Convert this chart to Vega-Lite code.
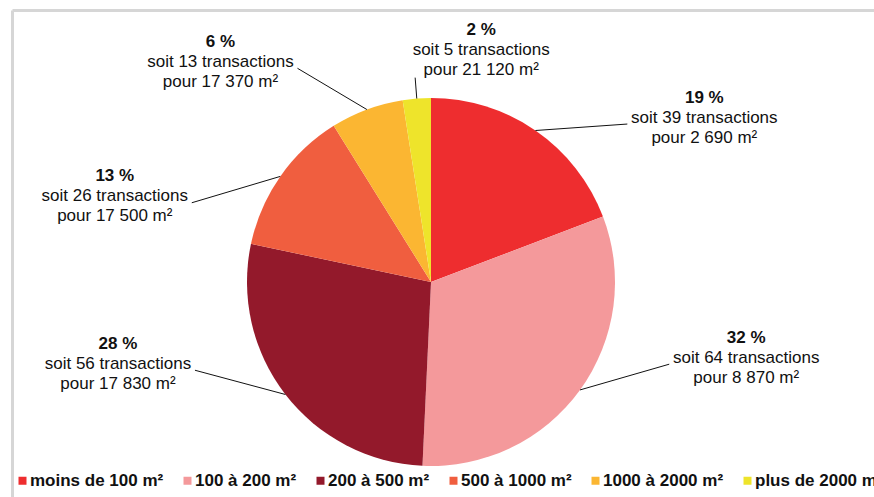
{
  "$schema": "https://vega.github.io/schema/vega-lite/v6.json",
  "width": 862,
  "height": 487,
  "autosize": {"type": "none"},
  "padding": {"left": 12, "top": 10, "right": 0, "bottom": 0},
  "background": "white",
  "config": {
    "view": {"stroke": null},
    "font": "Liberation Sans",
    "text": {"font": "Liberation Sans", "color": "#111111"}
  },
  "data": {
    "values": [
      {"cat": "moins de 100 m²", "order": 1, "transactions": 39, "surface": "2 690"},
      {"cat": "100 à 200 m²", "order": 2, "transactions": 64, "surface": "8 870"},
      {"cat": "200 à 500 m²", "order": 3, "transactions": 56, "surface": "17 830"},
      {"cat": "500 à 1000 m²", "order": 4, "transactions": 26, "surface": "17 500"},
      {"cat": "1000 à 2000 m²", "order": 5, "transactions": 13, "surface": "17 370"},
      {"cat": "plus de 2000 m²", "order": 6, "transactions": 5, "surface": "21 120"}
    ]
  },
  "transform": [
    {"window": [{"op": "sum", "field": "transactions", "as": "cum"}], "sort": [{"field": "order"}], "frame": [null, 0]},
    {"joinaggregate": [{"op": "sum", "field": "transactions", "as": "total"}]},
    {"calculate": "2*PI*(datum.cum - datum.transactions/2)/datum.total", "as": "mid"},
    {"calculate": "datum.mid + 0.31*sin(2*datum.mid)", "as": "pushed"},
    {"calculate": "abs(sin(datum.pushed)) < 0.25", "as": "top"},
    {"calculate": "datum.top ? datum.mid : datum.pushed", "as": "aa"},
    {"calculate": "datum.top ? 205 : 252", "as": "ra"},
    {"calculate": "184*sin(datum.mid)", "as": "ex"},
    {"calculate": "184*cos(datum.mid)", "as": "ey"},
    {"calculate": "datum.ra*sin(datum.aa)", "as": "ax"},
    {"calculate": "datum.ra*cos(datum.aa)", "as": "ay"},
    {"calculate": "datum.top ? datum.ax + 66 : datum.ax + (sin(datum.aa) > 0 ? 77 : -77)", "as": "lx"},
    {"calculate": "datum.top ? datum.ay + 28 : datum.ay + 6.5", "as": "ly"},
    {"calculate": "round(100*datum.transactions/datum.total) + ' %'", "as": "pctLabel"},
    {"calculate": "'soit ' + datum.transactions + ' transactions'", "as": "line2"},
    {"calculate": "'pour ' + datum.surface + ' m²'", "as": "line3"}
  ],
  "layer": [
    {
      "mark": {"type": "arc", "outerRadius": 184},
      "encoding": {
        "x": {
          "datum": 0,
          "type": "quantitative",
          "scale": {"domain": [-419, 443], "nice": false, "zero": false},
          "axis": {"orient": "top", "title": null, "labels": false, "ticks": false, "grid": false, "domainColor": "#d6d6d6", "domainWidth": 3}
        },
        "y": {
          "datum": 0,
          "type": "quantitative",
          "scale": {"domain": [-215, 272], "nice": false, "zero": false},
          "axis": {"orient": "left", "title": null, "labels": false, "ticks": false, "grid": false, "domainColor": "#d6d6d6", "domainWidth": 3}
        },
        "theta": {"field": "transactions", "type": "quantitative", "stack": true},
        "order": {"field": "order", "type": "quantitative"},
        "color": {
          "field": "cat",
          "type": "nominal",
          "scale": {
            "domain": ["moins de 100 m²", "100 à 200 m²", "200 à 500 m²", "500 à 1000 m²", "1000 à 2000 m²", "plus de 2000 m²"],
            "range": ["#EE2D2F", "#F4999B", "#93192B", "#F05E3F", "#FBB632", "#EEE42B"]
          },
          "legend": {
            "orient": "none",
            "legendX": 2,
            "legendY": 462,
            "direction": "horizontal",
            "title": null,
            "padding": 0,
            "symbolType": "square",
            "symbolSize": 64,
            "symbolStrokeWidth": 0,
            "labelFont": "Liberation Sans",
            "labelFontSize": 17,
            "labelFontWeight": "bold",
            "labelColor": "#111111",
            "labelOffset": -1,
            "columnPadding": 15,
            "labelLimit": 300
          }
        }
      }
    },
    {
      "mark": {"type": "rule", "color": "#111111", "strokeWidth": 1},
      "encoding": {
        "x": {"field": "ex", "type": "quantitative"},
        "y": {"field": "ey", "type": "quantitative"},
        "x2": {"field": "ax"},
        "y2": {"field": "ay"}
      }
    },
    {
      "mark": {"type": "text", "fontSize": 17, "fontWeight": "bold", "dy": -20, "baseline": "middle", "align": "center"},
      "encoding": {
        "x": {"field": "lx", "type": "quantitative"},
        "y": {"field": "ly", "type": "quantitative"},
        "text": {"field": "pctLabel"}
      }
    },
    {
      "mark": {"type": "text", "fontSize": 17, "baseline": "middle", "align": "center"},
      "encoding": {
        "x": {"field": "lx", "type": "quantitative"},
        "y": {"field": "ly", "type": "quantitative"},
        "text": {"field": "line2"}
      }
    },
    {
      "mark": {"type": "text", "fontSize": 17, "dy": 20, "baseline": "middle", "align": "center"},
      "encoding": {
        "x": {"field": "lx", "type": "quantitative"},
        "y": {"field": "ly", "type": "quantitative"},
        "text": {"field": "line3"}
      }
    }
  ]
}
